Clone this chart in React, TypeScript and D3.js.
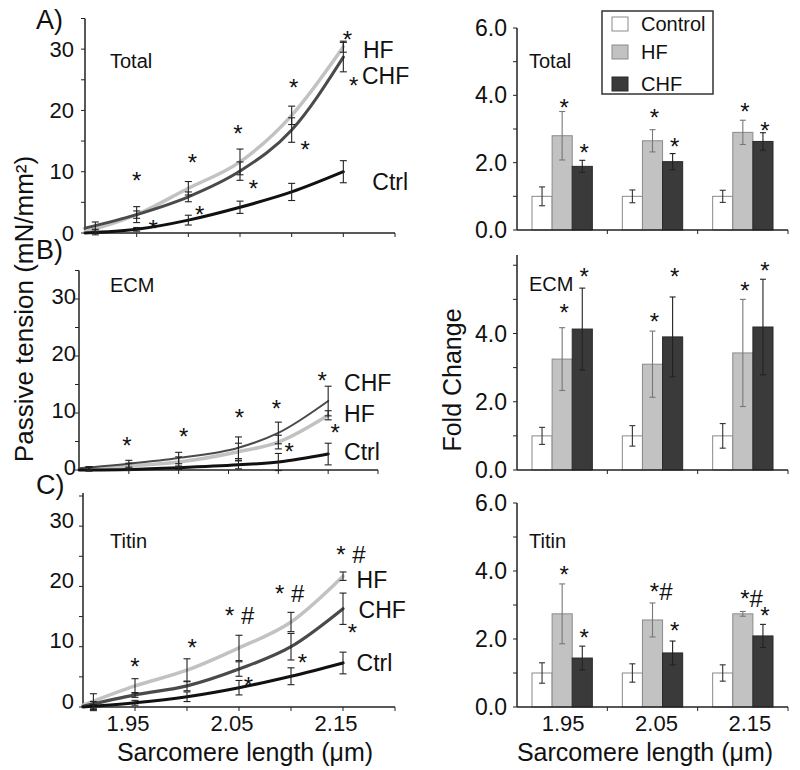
import React from "react";
import * as d3 from "d3";

const FONT = "'Liberation Sans', Arial, Helvetica, sans-serif";

// ---------------- Left panels: passive tension (mN/mm²) vs sarcomere length ----------------
// A) Total
const measX_A = [1.91, 1.95, 2.0, 2.05, 2.1, 2.15];
const fitX_A = [1.9, 1.95, 2.0, 2.05, 2.1, 2.15];
const ctrlMean_A = [0.0, 0.6, 2.1, 4.2, 6.7, 10.0];
const ctrlErr_A = [0.3, 0.3, 0.8, 1.0, 1.4, 1.8];
const ctrlFit_A = [0.0, 0.6, 2.1, 4.2, 6.7, 10.0];
const hfMean_A = [0.3, 3.0, 7.3, 11.6, 19.2, 30.4];
const hfErr_A = [0.3, 1.3, 1.1, 2.1, 1.5, 0.9];
const hfFit_A = [0.2, 3.0, 7.3, 11.6, 19.2, 30.4];
const chfMean_A = [1.0, 3.0, 5.9, 10.1, 16.8, 28.7];
const chfErr_A = [0.8, 0.6, 0.8, 1.5, 2.0, 2.4];
const chfFit_A = [0.8, 3.0, 5.9, 10.1, 16.8, 28.7];
const starX_A = [1.95, 1.966, 2.004, 2.011, 2.048, 2.063, 2.102, 2.113, 2.154, 2.16];
const starY_A = [9.5, 1.6, 12.4, 3.9, 17.1, 8.2, 24.6, 14.5, 32.5, 25.0];
const starT_A = ["*", "*", "*", "*", "*", "*", "*", "*", "*", "*"];
const seriesLabelX_A = [2.178, 2.169, 2.168];
const seriesLabelY_A = [8.3, 29.9, 25.6];

// B) ECM
const measX_B = [1.91, 1.95, 2.0, 2.06, 2.1, 2.15];
const fitX_B = [1.9, 1.95, 2.0, 2.06, 2.1, 2.15];
const ctrlMean_B = [0.1, 0.1, 0.4, 0.9, 1.4, 2.8];
const ctrlErr_B = [0.3, 0.2, 0.3, 0.7, 1.5, 1.9];
const ctrlFit_B = [0.0, 0.1, 0.4, 0.9, 1.4, 2.8];
const hfMean_B = [0.2, 0.7, 1.4, 3.2, 4.9, 9.6];
const hfErr_B = [0.3, 0.5, 0.9, 1.5, 1.2, 0.8];
const hfFit_B = [0.1, 0.7, 1.4, 3.2, 4.9, 9.6];
const chfMean_B = [0.3, 1.1, 2.1, 3.9, 6.5, 12.1];
const chfErr_B = [0.3, 0.6, 1.0, 1.9, 1.9, 2.6];
const chfFit_B = [0.3, 1.1, 2.1, 3.9, 6.5, 12.1];
const starX_B = [1.948, 2.005, 2.061, 2.098, 2.111, 2.144, 2.157];
const starY_B = [5.3, 6.8, 10.2, 11.8, 4.2, 16.7, 7.5];
const starT_B = ["*", "*", "*", "*", "*", "*", "*"];
const seriesLabelX_B = [2.166, 2.166, 2.166];
const seriesLabelY_B = [3.2, 9.8, 15.3];

// C) Titin
const measX_C = [1.91, 1.95, 2.0, 2.05, 2.1, 2.15];
const fitX_C = [1.9, 1.95, 2.0, 2.05, 2.1, 2.15];
const ctrlMean_C = [0.0, 0.7, 1.7, 3.2, 5.1, 7.3];
const ctrlErr_C = [0.4, 0.4, 0.8, 1.2, 1.4, 1.8];
const ctrlFit_C = [0.0, 0.7, 1.7, 3.2, 5.1, 7.3];
const hfMean_C = [0.8, 3.5, 6.1, 9.8, 14.1, 21.7];
const hfErr_C = [1.4, 1.2, 1.9, 2.1, 1.6, 0.7];
const hfFit_C = [0.3, 3.5, 6.1, 9.8, 14.1, 21.7];
const chfMean_C = [0.3, 2.0, 3.5, 6.3, 10.0, 16.3];
const chfErr_C = [0.6, 0.4, 0.8, 1.2, 2.2, 2.6];
const chfFit_C = [0.1, 2.0, 3.5, 6.3, 10.0, 16.3];
const starX_C = [1.95, 2.005, 2.041, 2.059, 2.089, 2.111, 2.148, 2.159];
const starY_C = [7.6, 10.8, 16.1, 4.5, 19.7, 8.3, 26.2, 13.3];
const starT_C = ["*", "*", "* #", "*", "* #", "*", "* #", "*"];
const seriesLabelX_C = [2.163, 2.163, 2.165];
const seriesLabelY_C = [7.3, 21.1, 16.1];

const leftYTicks = [0, 10, 20, 30];
const leftXTickLabels = [1.95, 2.05, 2.15];
const seriesNames = ["Ctrl", "HF", "CHF"];

// ---------------- Right panels: fold change ----------------
const groups = ["1.95", "2.05", "2.15"];
const barKeys = ["Control", "HF", "CHF"];

const totalCtrl = [1.0, 1.0, 1.0];
const totalCtrlErr = [0.28, 0.19, 0.18];
const totalHF = [2.8, 2.65, 2.9];
const totalHFErr = [0.72, 0.33, 0.36];
const totalCHF = [1.89, 2.03, 2.63];
const totalCHFErr = [0.18, 0.24, 0.26];
const totalStarG = [0, 0, 1, 1, 2, 2];
const totalStarS = [1, 2, 1, 2, 1, 2];
const totalStarY = [3.79, 2.45, 3.49, 2.63, 3.67, 3.1];
const totalStarT = ["*", "*", "*", "*", "*", "*"];

const ecmCtrl = [1.0, 1.0, 1.0];
const ecmCtrlErr = [0.25, 0.3, 0.36];
const ecmHF = [3.25, 3.1, 3.43];
const ecmHFErr = [0.92, 0.97, 1.57];
const ecmCHF = [4.13, 3.9, 4.19];
const ecmCHFErr = [1.2, 1.17, 1.4];
const ecmStarG = [0, 0, 1, 1, 2, 2];
const ecmStarS = [1, 2, 1, 2, 1, 2];
const ecmStarY = [4.78, 5.81, 4.52, 5.81, 5.4, 6.01];
const ecmStarT = ["*", "*", "*", "*", "*", "*"];

const titinCtrl = [1.0, 1.0, 1.0];
const titinCtrlErr = [0.3, 0.27, 0.24];
const titinHF = [2.74, 2.56, 2.74];
const titinHFErr = [0.88, 0.5, 0.07];
const titinCHF = [1.44, 1.59, 2.09];
const titinCHFErr = [0.35, 0.35, 0.34];
const titinStarG = [0, 0, 1, 1, 2, 2];
const titinStarS = [1, 2, 1, 2, 1, 2];
const titinStarY = [4.06, 2.21, 3.56, 2.41, 3.35, 2.85];
const titinStarT = ["*", "*", "*#", "*", "*#", "*"];

// ---------------- styles ----------------
const C_CTRL = "#111111";
const C_HF = "#c2c2c2";
const C_CHF = "#4a4a4a";
const AXIS = "#222222";

function Star({ cx, cy, text, fs = 24 }: { cx: number; cy: number; text: string; fs?: number }) {
  return (
    <text x={cx - 0.195 * fs} y={cy + 0.574 * fs} fontSize={fs} fontFamily={FONT} fill="#111">
      {text}
    </text>
  );
}

function ErrBar({ x, y1, y2, color = "#222", cap = 7 }: any) {
  return (
    <g stroke={color} strokeWidth={1.1}>
      <line x1={x} x2={x} y1={y1} y2={y2} />
      <line x1={x - cap / 2} x2={x + cap / 2} y1={y1} y2={y1} />
      <line x1={x - cap / 2} x2={x + cap / 2} y1={y2} y2={y2} />
    </g>
  );
}

const leftPanels = [
  {
    id: "A", title: "Total", xRange: [85, 395], yDomain: [0, 35], yRange: [233, 18.5], tickDy: 0, yLabelRight: 74,
    measX: measX_A, fitX: fitX_A,
    series: [
      { mean: ctrlMean_A, err: ctrlErr_A, fit: ctrlFit_A, color: C_CTRL, w: 3 },
      { mean: hfMean_A, err: hfErr_A, fit: hfFit_A, color: C_HF, w: 3.5 },
      { mean: chfMean_A, err: chfErr_A, fit: chfFit_A, color: C_CHF, w: 3 },
    ],
    starX: starX_A, starY: starY_A, starT: starT_A, labX: seriesLabelX_A, labY: seriesLabelY_A,
    showXLabels: false,
  },
  {
    id: "B", title: "ECM", xRange: [79, 378], yDomain: [0, 35], yRange: [470, 270.5], tickDy: -3, yLabelRight: 76,
    measX: measX_B, fitX: fitX_B,
    series: [
      { mean: ctrlMean_B, err: ctrlErr_B, fit: ctrlFit_B, color: C_CTRL, w: 3 },
      { mean: hfMean_B, err: hfErr_B, fit: hfFit_B, color: C_HF, w: 3.5 },
      { mean: chfMean_B, err: chfErr_B, fit: chfFit_B, color: C_CHF, w: 2 },
    ],
    starX: starX_B, starY: starY_B, starT: starT_B, labX: seriesLabelX_B, labY: seriesLabelY_B,
    showXLabels: false,
  },
  {
    id: "C", title: "Titin", xRange: [83, 395], yDomain: [0, 35.5], yRange: [707, 493], tickDy: -6, yLabelRight: 74,
    measX: measX_C, fitX: fitX_C,
    series: [
      { mean: ctrlMean_C, err: ctrlErr_C, fit: ctrlFit_C, color: C_CTRL, w: 3.2 },
      { mean: hfMean_C, err: hfErr_C, fit: hfFit_C, color: C_HF, w: 3.5 },
      { mean: chfMean_C, err: chfErr_C, fit: chfFit_C, color: C_CHF, w: 3.2 },
    ],
    starX: starX_C, starY: starY_C, starT: starT_C, labX: seriesLabelX_C, labY: seriesLabelY_C,
    showXLabels: true,
  },
];

function LeftPanel({ p }: any) {
  const x = d3.scaleLinear().domain([1.9, 2.2]).range(p.xRange);
  const y = d3.scaleLinear().domain(p.yDomain).range(p.yRange);
  const line = d3
    .line<[number, number]>()
    .x((d) => x(d[0]))
    .y((d) => y(d[1]))
    .curve(d3.curveMonotoneX);
  const ax = p.xRange[0];
  const yb = p.yRange[0];
  const yt = p.yRange[1];
  const minorY = d3.range(0, p.yDomain[1] + 0.01, 5);
  const xTicks = d3.range(1.95, 2.21, 0.05);
  const drawOrder = [1, 2, 0];
  return (
    <g>
      <line x1={ax} x2={ax} y1={yt} y2={yb} stroke={AXIS} strokeWidth={1.5} />
      <line x1={ax} x2={p.xRange[1]} y1={yb} y2={yb} stroke={AXIS} strokeWidth={1.5} />
      {minorY.map((v: number) => (
        <line key={"ty" + v} x1={ax - 4} x2={ax} y1={y(v)} y2={y(v)} stroke={AXIS} strokeWidth={1} />
      ))}
      {xTicks.map((v: number) => (
        <line key={"tx" + v} x1={x(v)} x2={x(v)} y1={yb} y2={yb + 4} stroke={AXIS} strokeWidth={1} />
      ))}
      {leftYTicks.map((v) => (
        <text key={"yl" + v} x={p.yLabelRight} y={y(v) + p.tickDy} dy="0.35em" textAnchor="end" fontSize={22} fontFamily={FONT} fill="#111">
          {v}
        </text>
      ))}
      {p.showXLabels &&
        leftXTickLabels.map((v) => (
          <text key={"xl" + v} x={x(v) - 7} y={723} dy="0.35em" textAnchor="middle" fontSize={22} fontFamily={FONT} fill="#111">
            {v.toFixed(2)}
          </text>
        ))}
      {drawOrder.map((i) => {
        const s = p.series[i];
        const pts: [number, number][] = p.fitX.map((xv: number, k: number) => [xv, s.fit[k]]);
        return <path key={"c" + i} d={line(pts) || ""} fill="none" stroke={s.color} strokeWidth={s.w} strokeLinecap="round" />;
      })}
      {p.series.map((s: any, i: number) =>
        p.measX.map((xv: number, k: number) => (
          <ErrBar key={"e" + i + "-" + k} x={x(xv)} y1={y(s.mean[k] + s.err[k])} y2={y(s.mean[k] - s.err[k])} cap={7} />
        ))
      )}
      {seriesNames.map((n, i) => (
        <text key={"sl" + n} x={x(p.labX[i])} y={y(p.labY[i])} dy="0.36em" fontSize={23} fontFamily={FONT} fill="#111">
          {n}
        </text>
      ))}
      {p.starX.map((sx: number, k: number) => (
        <Star key={"s" + k} cx={x(sx)} cy={y(p.starY[k])} text={p.starT[k]} />
      ))}
      <text x={110} y={p.titleY} dy="0.35em" fontSize={20} fontFamily={FONT} fill="#111">
        {p.title}
      </text>
    </g>
  );
}

const rightPanels = [
  {
    title: "Total", yDomain: [0, 6], yRange: [230, 28], yTicks: [0, 2, 4, 6], titleY: 61,
    vals: [totalCtrl, totalHF, totalCHF], errs: [totalCtrlErr, totalHFErr, totalCHFErr],
    sG: totalStarG, sS: totalStarS, sY: totalStarY, sT: totalStarT,
  },
  {
    title: "ECM", yDomain: [0, 6.3], yRange: [470, 255], yTicks: [0, 2, 4], titleY: 284,
    vals: [ecmCtrl, ecmHF, ecmCHF], errs: [ecmCtrlErr, ecmHFErr, ecmCHFErr],
    sG: ecmStarG, sS: ecmStarS, sY: ecmStarY, sT: ecmStarT,
  },
  {
    title: "Titin", yDomain: [0, 6], yRange: [707, 503], yTicks: [0, 2, 4, 6], titleY: 541,
    vals: [titinCtrl, titinHF, titinCHF], errs: [titinCtrlErr, titinHFErr, titinCHFErr],
    sG: titinStarG, sS: titinStarS, sY: titinStarY, sT: titinStarT,
    showX: true,
  },
];

const barFill = ["#ffffff", "#c2c2c2", "#3a3a3a"];
const barStroke = ["#8a8a8a", "#8a8a8a", "#2a2a2a"];
const errColor = ["#333", "#777", "#222"];

function RightPanel({ p }: any) {
  const xg = d3.scaleBand().domain(groups).range([517, 788]);
  const bw = xg.bandwidth();
  const xb = d3.scaleBand().domain(barKeys).range([bw * 0.166, bw * 0.834]);
  const y = d3.scaleLinear().domain(p.yDomain).range(p.yRange);
  const ax = 517;
  const yb = p.yRange[0];
  const minor = d3.range(0, p.yDomain[1] + 0.01, 1);
  const bx = (g: number, s: number) => (xg(groups[g]) as number) + (xb(barKeys[s]) as number);
  return (
    <g>
      {p.vals.map((arr: number[], s: number) =>
        arr.map((v, g) => (
          <rect key={"b" + s + g} x={bx(g, s)} y={y(v)} width={xb.bandwidth()} height={yb - y(v)} fill={barFill[s]} stroke={barStroke[s]} strokeWidth={1} />
        ))
      )}
      {p.vals.map((arr: number[], s: number) =>
        arr.map((v, g) => (
          <ErrBar key={"eb" + s + g} x={bx(g, s) + xb.bandwidth() / 2} y1={y(v + p.errs[s][g])} y2={y(v - p.errs[s][g])} color={errColor[s]} cap={6} />
        ))
      )}
      <line x1={ax} x2={ax} y1={p.yRange[1]} y2={yb} stroke={AXIS} strokeWidth={1.5} />
      <line x1={ax} x2={788} y1={yb} y2={yb} stroke={AXIS} strokeWidth={1.5} />
      {minor.map((v: number) => (
        <line key={"m" + v} x1={ax - 4} x2={ax} y1={y(v)} y2={y(v)} stroke={AXIS} strokeWidth={1} />
      ))}
      {groups.slice(1).map((g) => (
        <line key={"gt" + g} x1={xg(g) as number} x2={xg(g) as number} y1={yb} y2={yb + 4} stroke={AXIS} strokeWidth={1} />
      ))}
      <line x1={788} x2={788} y1={yb} y2={yb + 4} stroke={AXIS} strokeWidth={1} />
      {p.yTicks.map((v: number) => (
        <text key={"yt" + v} x={507} y={y(v)} dy="0.35em" textAnchor="end" fontSize={23} fontFamily={FONT} fill="#111">
          {v.toFixed(1)}
        </text>
      ))}
      {p.showX &&
        groups.map((g, i) => (
          <text key={"xl" + g} x={(xg(g) as number) + bw / 2 + 1 + i * 3} y={723} dy="0.35em" textAnchor="middle" fontSize={22} fontFamily={FONT} fill="#111">
            {g}
          </text>
        ))}
      {p.sG.map((g: number, k: number) => (
        <Star key={"st" + k} cx={bx(g, p.sS[k]) + xb.bandwidth() / 2 + 2} cy={y(p.sY[k])} text={p.sT[k]} />
      ))}
      <text x={529} y={p.titleY} dy="0.35em" fontSize={20} fontFamily={FONT} fill="#111">
        {p.title}
      </text>
    </g>
  );
}

function Legend() {
  const rowY = [24, 52, 84];
  return (
    <g>
      <rect x={602} y={11} width={111} height={83} fill="#fff" stroke="#333" strokeWidth={1.5} />
      {barKeys.map((k, i) => (
        <g key={k}>
          <rect x={612} y={rowY[i] - 7} width={16} height={14} fill={barFill[i]} stroke={barStroke[i]} strokeWidth={1} />
          <text x={641} y={rowY[i]} dy="0.35em" fontSize={20} fontFamily={FONT} fill="#111">
            {k}
          </text>
        </g>
      ))}
    </g>
  );
}

export default function App() {
  const titleYs = [61, 285, 541];
  return (
    <svg width={800} height={770} style={{ position: "absolute", left: 0, top: 0, background: "#fff" }}>
      <rect x={0} y={0} width={800} height={770} fill="#fff" />
      {leftPanels.map((p, i) => (
        <LeftPanel key={p.id} p={{ ...p, titleY: titleYs[i] }} />
      ))}
      {rightPanels.map((p) => (
        <RightPanel key={p.title} p={p} />
      ))}
      <Legend />
      {["A)", "B)", "C)"].map((t, i) => (
        <text key={t} x={36} y={[20, 250, 485][i]} dy="0.35em" fontSize={27} fontFamily={FONT} fill="#111">
          {t}
        </text>
      ))}
      <text transform="translate(33,309) rotate(-90)" textAnchor="middle" fontSize={26} fontFamily={FONT} fill="#111">
        Passive tension (mN/mm²)
      </text>
      <text transform="translate(461,380) rotate(-90)" textAnchor="middle" fontSize={25} fontFamily={FONT} fill="#111">
        Fold Change
      </text>
      <text x={245} y={752} dy="0.35em" textAnchor="middle" fontSize={25} fontFamily={FONT} fill="#111">
        Sarcomere length (μm)
      </text>
      <text x={645} y={752} dy="0.35em" textAnchor="middle" fontSize={25} fontFamily={FONT} fill="#111">
        Sarcomere length (μm)
      </text>
    </svg>
  );
}
